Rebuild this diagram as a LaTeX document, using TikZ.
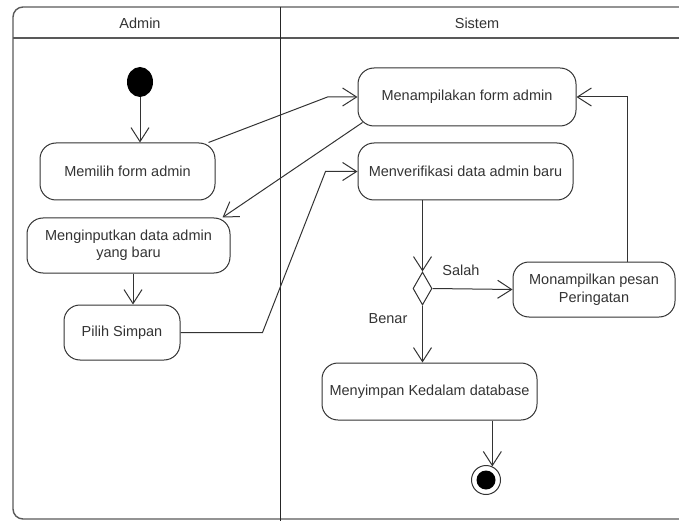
\documentclass[tikz,border=0pt]{standalone}
\usepackage{fontspec}
\setmainfont{Liberation Sans}
\usetikzlibrary{arrows.meta,shapes.geometric,calc}

\tikzset{
  every node/.style={text=black!80, font=\fontsize{14.5}{17.5}\selectfont},
  aktivitas/.style={draw=black!80, line width=1pt, rounded corners=16pt, align=center, inner sep=2pt},
  alur/.style={draw=black!80, line width=1pt, -{Straight Barb[length=14pt,width=18pt]}},
}

\begin{document}
\begin{tikzpicture}[x=1pt,y=-1pt]
\useasboundingbox (0,0) rectangle (679,521);
% swimlane
\draw[black!65, line width=1.4pt, rounded corners=10pt] (700,7) -- (13,7) -- (13,519) -- (700,519);
\draw[black!65, line width=1.4pt] (13,38) -- (700,38);
\draw[black!85, line width=1pt] (280,7) -- (280,530);
  \node (laneadmin)  at (140,23) {Admin};
  \node (lanesistem) at (477,23) {Sistem};

  \node[ellipse, fill=black, minimum width=26pt, minimum height=30pt, inner sep=0pt] (mulai) at (140,82) {};
  \node[aktivitas, minimum width=175pt, minimum height=57pt] (memilih)    at (127.5,171.5) {Memilih form admin};
  \node[aktivitas, minimum width=203pt, minimum height=55pt] (menginput)  at (128.5,245.5) {Menginputkan data admin\\yang baru};
  \node[aktivitas, minimum width=116pt, minimum height=55pt] (simpan)     at (122,332.5)   {Pilih Simpan};
  \node[aktivitas, minimum width=218pt, minimum height=58pt] (tampilform) at (467,97)      {Menampilakan form admin};
  \node[aktivitas, minimum width=215pt, minimum height=57pt] (verifikasi) at (465.5,171.5) {Menverifikasi data admin baru};
  \node[diamond, draw=black!80, line width=1pt, minimum width=19pt, minimum height=33pt, inner sep=0pt] (cek) at (422.5,288.5) {};
  \node[aktivitas, minimum width=162pt, minimum height=55pt] (peringatan) at (594,289.5)   {Monampilkan pesan\\Peringatan};
  \node[aktivitas, minimum width=215pt, minimum height=57pt] (simpandb)   at (429.5,391.5) {Menyimpan Kedalam database};
  \node[circle, draw=black!80, line width=1pt, minimum size=29pt, inner sep=0pt] (selesai) at (486,480) {};
  \node[circle, fill=black, minimum size=19pt, inner sep=0pt] (selesaiinti) at (selesai) {};
  \node (lblsalah) at (461,270) {Salah};
  \node (lblbenar) at (388,319) {Benar};

  \draw[alur] (mulai) -- (mulai |- memilih.north);
  \draw[alur] ([xshift=-7pt]memilih.north east) -- ([xshift=-30pt]tampilform.west) -- (tampilform.west);
  \draw[alur] ([xshift=5pt,yshift=4pt]tampilform.south west) -- ([xshift=-8pt]menginput.north east);
  \draw[alur] ([xshift=4.5pt]menginput.south) -- ([xshift=4.5pt]menginput.south |- simpan.north);
  \draw[alur] (simpan.east) -- ++(82,0) -- ([xshift=-32pt]verifikasi.west) -- (verifikasi.west);
  \draw[alur] (cek.north |- verifikasi.south) -- (cek.north);
  \draw[alur] (cek.east) -- (peringatan.west);
  \draw[alur] (cek.south) -- (cek.south |- simpandb.north);
  \draw[alur] ([xshift=33pt]peringatan.north) -- ([xshift=33pt]peringatan.north |- tampilform.east) -- (tampilform.east);
  \draw[alur] (selesai.65 |- simpandb.south) -- (selesai.65);
\end{tikzpicture}
\end{document}
